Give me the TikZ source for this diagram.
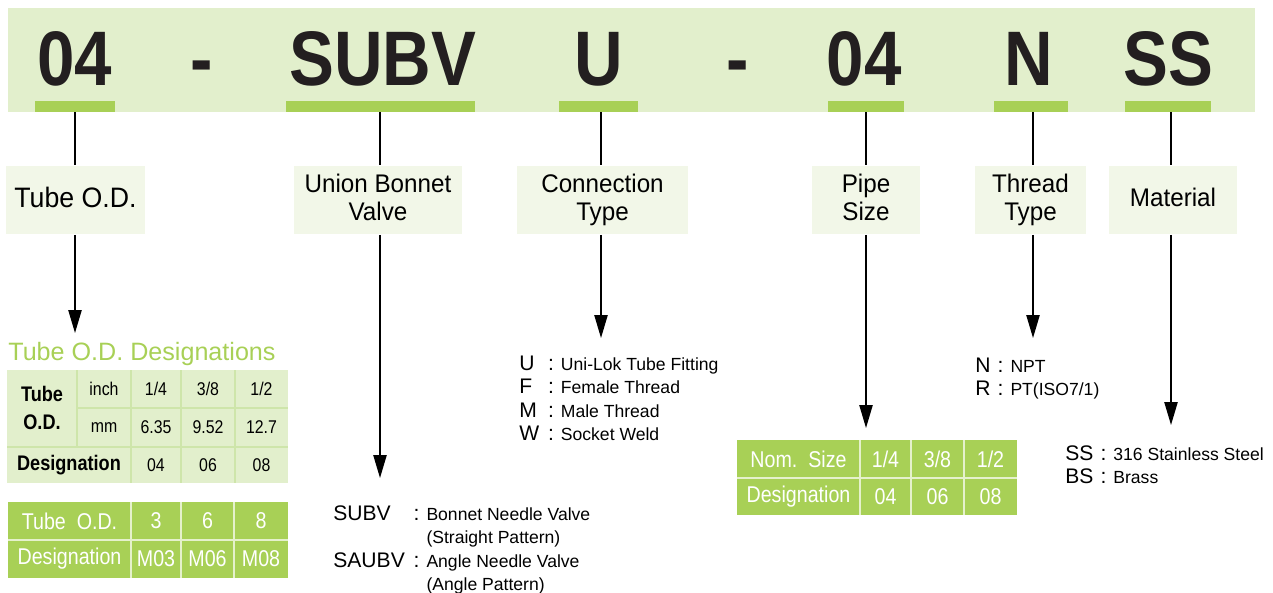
\documentclass[tikz,border=0pt]{standalone}
\usepackage{fontspec}
\setmainfont{Liberation Sans}
\newfontfamily\codefont{Liberation Sans}[FakeStretch=0.87]
\newfontfamily\labelfont{Liberation Sans}[FakeStretch=0.95]
\newfontfamily\tablefont{Liberation Sans}[FakeStretch=0.86]
\definecolor{bandgreen}{RGB}{226,239,204}
\definecolor{boxgreen}{RGB}{242,247,232}
\definecolor{bargreen}{RGB}{168,208,86}
\definecolor{gridgreen}{RGB}{206,229,170}
\definecolor{codeblack}{RGB}{35,31,32}
\usetikzlibrary{arrows.meta,positioning}
\newcommand{\optkey}[1]{{\fontsize{12}{13.4}\selectfont #1}}

\begin{document}
\begin{tikzpicture}[x=0.02cm, y=-0.02cm,
    code/.style={anchor=base, inner sep=0pt, text=codeblack,
      font=\codefont\bfseries\fontsize{44}{44}\selectfont},
    bar/.style={rectangle, fill=bargreen, minimum height=0.22cm, inner sep=0pt},
    partbox/.style={rectangle, fill=boxgreen, minimum height=1.38cm, inner sep=0pt,
      align=center, font=\labelfont\fontsize{14.5}{15.6}\selectfont,
      execute at end node={\vphantom{y}}},
    link/.style={line width=0.6pt},
    arr/.style={-{Triangle[length=13pt, width=7.5pt]}, line width=0.85pt},
    opt/.style={anchor=base west, inner sep=0pt, font=\fontsize{10}{13.4}\selectfont},
    tcell/.style={inner sep=0pt, font=\tablefont\fontsize{10.5}{12}\selectfont},
    wcell/.style={inner sep=0pt, text=white, font=\tablefont\fontsize{13}{14}\selectfont},
    grid/.style={gridgreen, line width=0.8pt},
    wgrid/.style={white!70!bargreen, line width=0.8pt}
  ]
    \useasboundingbox (0,0) rectangle (1273,592);
    % Code band
    \fill[bandgreen] (8,8) rectangle (1255,112);
    \node[code] (c1) at (75,85) {04};
    \node[code] (d1) at (202,85) {-};
    \node[code] (c2) at (383,85) {SUBV};
    \node[code] (c3) at (599,85) {U};
    \node[code] (d2) at (738,85) {-};
    \node[code] (c4) at (864,85) {04};
    \node[code] (c5) at (1029,85) {N};
    \node[code] (c6) at (1168,85) {SS};
    % Underline bars
    \node[bar, minimum width=1.6cm] (bar1) at (75,106.5) {};
    \node[bar, minimum width=3.78cm] (bar2) at (380.5,106.5) {};
    \node[bar, minimum width=1.58cm] (bar3) at (598.5,106.5) {};
    \node[bar, minimum width=1.52cm] (bar4) at (866,106.5) {};
    \node[bar, minimum width=1.48cm] (bar5) at (1031,106.5) {};
    \node[bar, minimum width=1.72cm] (bar6) at (1168,106.5) {};
    % Part boxes
    \node[partbox, minimum width=2.78cm, font=\labelfont\fontsize{16}{16}\selectfont] (lab1) at (75.5,200) {Tube O.D.};
    \node[partbox, minimum width=3.38cm] (lab2) at (378,200) {Union Bonnet\\Valve};
    \node[partbox, minimum width=3.42cm] (lab3) at (602.5,200) {Connection\\Type};
    \node[partbox, minimum width=2.16cm] (lab4) at (866,200) {Pipe\\Size};
    \node[partbox, minimum width=2.22cm] (lab5) at (1030.5,200) {Thread\\Type};
    \node[partbox, minimum width=2.56cm] (lab6) at (1173,200) {Material};
    % Arrow tips
    \coordinate (tip1) at (75,333);
    \coordinate (tip2) at (380,478);
    \coordinate (tip3) at (601,338);
    \coordinate (tip4) at (866,428);
    \coordinate (tip5) at (1033,338);
    \coordinate (tip6) at (1171,425);
    % Connectors
    \foreach \i in {1,...,6} {
      \draw[link] (tip\i |- bar\i.south) -- (tip\i |- lab\i.north);
      \draw[arr] (tip\i |- lab\i.south) -- (tip\i);
    }
    % Tube O.D. designations
    \node[anchor=base west, inner sep=0pt, text=bargreen, font=\fontsize{14.3}{15}\selectfont]
      (ttitle) at (8,360) {Tube O.D. Designations};
    \fill[bandgreen] (7,370) rectangle (288,483);
    \draw[grid] (77,370) -- (77,447) (77,408) -- (288,408) (7,447) -- (288,447)
      (131,370) -- (131,483) (181,370) -- (181,483) (235,370) -- (235,483);
    \node[tcell, align=center, font=\tablefont\bfseries\fontsize{12}{16}\selectfont] (tod) at (42,408) {Tube\\O.D.};
    \node[tcell] (inch) at (104,389) {inch};
    \node[tcell] (mm) at (104,427.5) {mm};
    \node[tcell, font=\tablefont\bfseries\fontsize{12}{13}\selectfont] (desig) at (69,465) {Designation};
    \node[tcell] (in1) at (156,389) {1/4};
    \node[tcell] (in2) at (208,389) {3/8};
    \node[tcell] (in3) at (261.5,389) {1/2};
    \node[tcell] (mm1) at (156,427.5) {6.35};
    \node[tcell] (mm2) at (208,427.5) {9.52};
    \node[tcell] (mm3) at (261.5,427.5) {12.7};
    \node[tcell] (ds1) at (156,465) {04};
    \node[tcell] (ds2) at (208,465) {06};
    \node[tcell] (ds3) at (261.5,465) {08};
    % Metric tube table
    \fill[bargreen] (8,502) rectangle (288,578);
    \draw[wgrid] (8,540) -- (288,540) (131,502) -- (131,578)
      (181,502) -- (181,578) (234,502) -- (234,578);
    \node[wcell] (mod) at (69.5,521) {Tube\ \ O.D.};
    \node[wcell] (mdesig) at (69.5,559) {Designation};
    \node[wcell] (mo1) at (156,521) {3};
    \node[wcell] (mo2) at (207.5,521) {6};
    \node[wcell] (mo3) at (261,521) {8};
    \node[wcell] (md1) at (156,559) {M03};
    \node[wcell] (md2) at (207.5,559) {M06};
    \node[wcell] (md3) at (261,559) {M08};
    % Valve options
    \node[opt] (valveopt) at (333,520) {\begin{tabular}[t]{@{}l@{\hspace{5pt}}l@{\hspace{4pt}}l@{}}
      \optkey{SUBV} & \optkey{:} & Bonnet Needle Valve\\
       & & (Straight Pattern)\\
      \optkey{SAUBV} & \optkey{:} & Angle Needle Valve\\
       & & (Angle Pattern)
    \end{tabular}};
    % Connection options
    \node[opt] (connopt) at (519,370) {\begin{tabular}[t]{@{}l@{\hspace{5pt}}l@{\hspace{4pt}}l@{}}
      \optkey{U} & \optkey{:} & Uni-Lok Tube Fitting\\
      \optkey{F} & \optkey{:} & Female Thread\\
      \optkey{M} & \optkey{:} & Male Thread\\
      \optkey{W} & \optkey{:} & Socket Weld
    \end{tabular}};
    % Pipe size table
    \fill[bargreen] (737,440) rectangle (1017,515);
    \draw[wgrid] (737,478) -- (1017,478) (860,440) -- (860,515)
      (911,440) -- (911,515) (964,440) -- (964,515);
    \node[wcell] (nom) at (798.5,459) {Nom.\ \ Size};
    \node[wcell] (pdesig) at (798.5,496.5) {Designation};
    \node[wcell] (ps1) at (885.5,459) {1/4};
    \node[wcell] (ps2) at (937.5,459) {3/8};
    \node[wcell] (ps3) at (990.5,459) {1/2};
    \node[wcell] (pd1) at (885.5,496.5) {04};
    \node[wcell] (pd2) at (937.5,496.5) {06};
    \node[wcell] (pd3) at (990.5,496.5) {08};
    % Thread options
    \node[opt] (threadopt) at (975,372) {\begin{tabular}[t]{@{}l@{\hspace{4pt}}l@{\hspace{4pt}}l@{}}
      \optkey{N} & \optkey{:} & NPT\\
      \optkey{R} & \optkey{:} & PT(ISO7/1)
    \end{tabular}};
    % Material options
    \node[opt] (matopt) at (1065,460) {\begin{tabular}[t]{@{}l@{\hspace{4pt}}l@{\hspace{4pt}}l@{}}
      \optkey{SS} & \optkey{:} & 316 Stainless Steel\\
      \optkey{BS} & \optkey{:} & Brass
    \end{tabular}};
  \end{tikzpicture}
\end{document}
